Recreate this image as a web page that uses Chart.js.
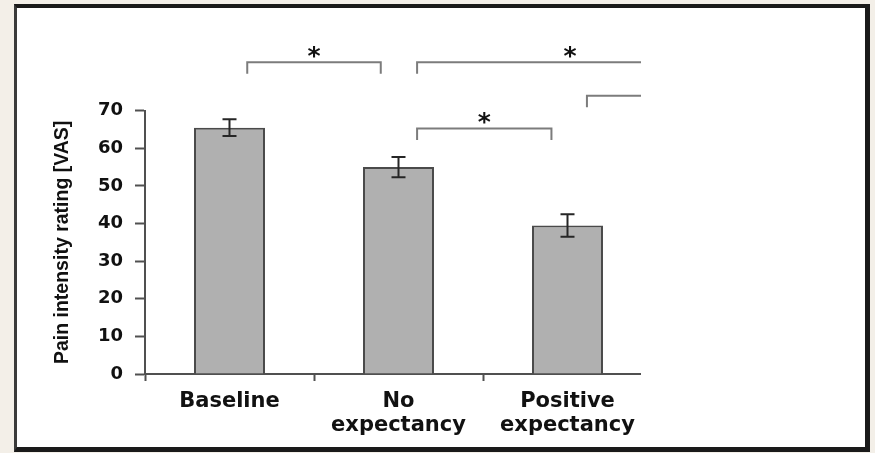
<!DOCTYPE html>
<html><head><meta charset="utf-8">
<script src="https://cdn.jsdelivr.net/npm/chart.js@4.4.1/dist/chart.umd.min.js"></script>
<style>
html,body{margin:0;padding:0;width:875px;height:453px;overflow:hidden;background:#f3efe8;}
#frame{position:absolute;left:14px;top:4px;width:848px;height:439px;background:#fff;border-style:solid;border-color:#1a1a1a;border-width:4px 5px 5px 3px;border-left-color:#3a3a3a;}
#clip{position:absolute;left:0;top:0;width:641px;height:453px;overflow:hidden;}
canvas{position:absolute;left:0;top:0;}
</style></head>
<body>
<div id="frame"></div>
<div id="clip"><canvas id="c" width="875" height="453"></canvas></div>
<script>
const categories = ['Baseline', ['No', 'expectancy'], ['Positive', 'expectancy']];
const meanRatings = [65.5, 55.0, 39.5];
const errorSizes = [2.2, 2.7, 3.0];
const yTicks = [0, 10, 20, 30, 40, 50, 60, 70];
const yTitle = 'Pain intensity rating [VAS]';
// significance brackets (x in category units, y in rating units)
const bracketStarts = [0.105, 1.11, 2.115, 1.11];
const bracketEnds = [0.895, 2.92, 3.2, 1.905];
const bracketHeights = [82.9, 82.9, 74.0, 65.3];
const bracketMarks = ['*', '*', '*', '*'];
const bracketLeg = 3.1;

const annot = {
  id: 'annot',
  afterDatasetsDraw(chart) {
    const {ctx, scales: {x, y}} = chart;
    ctx.save();
    ctx.strokeStyle = '#262626';
    ctx.lineWidth = 2;
    meanRatings.forEach((m, i) => {
      const px = x.getPixelForValue(i);
      const t = y.getPixelForValue(m + errorSizes[i]);
      const b = y.getPixelForValue(m - errorSizes[i]);
      ctx.beginPath();
      ctx.moveTo(px, t); ctx.lineTo(px, b);
      ctx.moveTo(px - 7, t); ctx.lineTo(px + 7, t);
      ctx.moveTo(px - 7, b); ctx.lineTo(px + 7, b);
      ctx.stroke();
    });
    ctx.strokeStyle = '#7c7c7c';
    ctx.lineWidth = 2;
    ctx.fillStyle = '#111';
    ctx.font = 'bold 25px "DejaVu Sans"';
    ctx.textAlign = 'center';
    ctx.textBaseline = 'alphabetic';
    bracketStarts.forEach((s, i) => {
      const x1 = x.getPixelForValue(bracketStarts[i]);
      const x2 = x.getPixelForValue(bracketEnds[i]);
      const yt = y.getPixelForValue(bracketHeights[i]);
      const yb = y.getPixelForValue(bracketHeights[i] - bracketLeg);
      ctx.beginPath();
      ctx.moveTo(x1, yb); ctx.lineTo(x1, yt); ctx.lineTo(x2, yt); ctx.lineTo(x2, yb);
      ctx.stroke();
      ctx.fillText(bracketMarks[i], (x1 + x2) / 2, yt + 2);
    });
    ctx.restore();
  }
};

new Chart(document.getElementById('c'), {
  type: 'bar',
  data: {
    labels: categories,
    datasets: [{
      data: meanRatings,
      backgroundColor: '#b0b0b0',
      borderColor: '#4a4a4a',
      borderWidth: 2,
      barPercentage: 0.42,
      categoryPercentage: 1
    }]
  },
  options: {
    responsive: false,
    animation: false,
    devicePixelRatio: 1,
    layout: {padding: {left: 0, right: 223, top: 110.7, bottom: 0}},
    plugins: {legend: {display: false}, tooltip: {enabled: false}},
    scales: {
      x: {
        offset: true,
        grid: {offset: true, drawOnChartArea: false, tickLength: 7, color: '#505050', tickWidth: 2},
        border: {color: '#505050', width: 2},
        ticks: {color: '#111', padding: 9, font: {family: '"DejaVu Sans"', weight: 'bold', size: 21, lineHeight: 1.12}, maxRotation: 0, autoSkip: false},
        afterFit: s => { s.height = 79; }
      },
      y: {
        min: 0, max: 70,
        afterBuildTicks: s => { s.ticks = yTicks.map(v => ({value: v})); },
        grid: {drawOnChartArea: false, tickLength: 10, color: '#505050', tickWidth: 2},
        border: {color: '#505050', width: 2},
        ticks: {color: '#111', padding: 12, font: {family: '"DejaVu Sans"', weight: 'bold', size: 18}},
        title: {display: true, text: yTitle, color: '#111', padding: {top: 51, bottom: 0}, font: {family: '"Liberation Sans"', size: 19.5, weight: 'bold'}},
        afterFit: s => { s.width = 145; }
      }
    }
  },
  plugins: [annot]
});
</script>
</body></html>
